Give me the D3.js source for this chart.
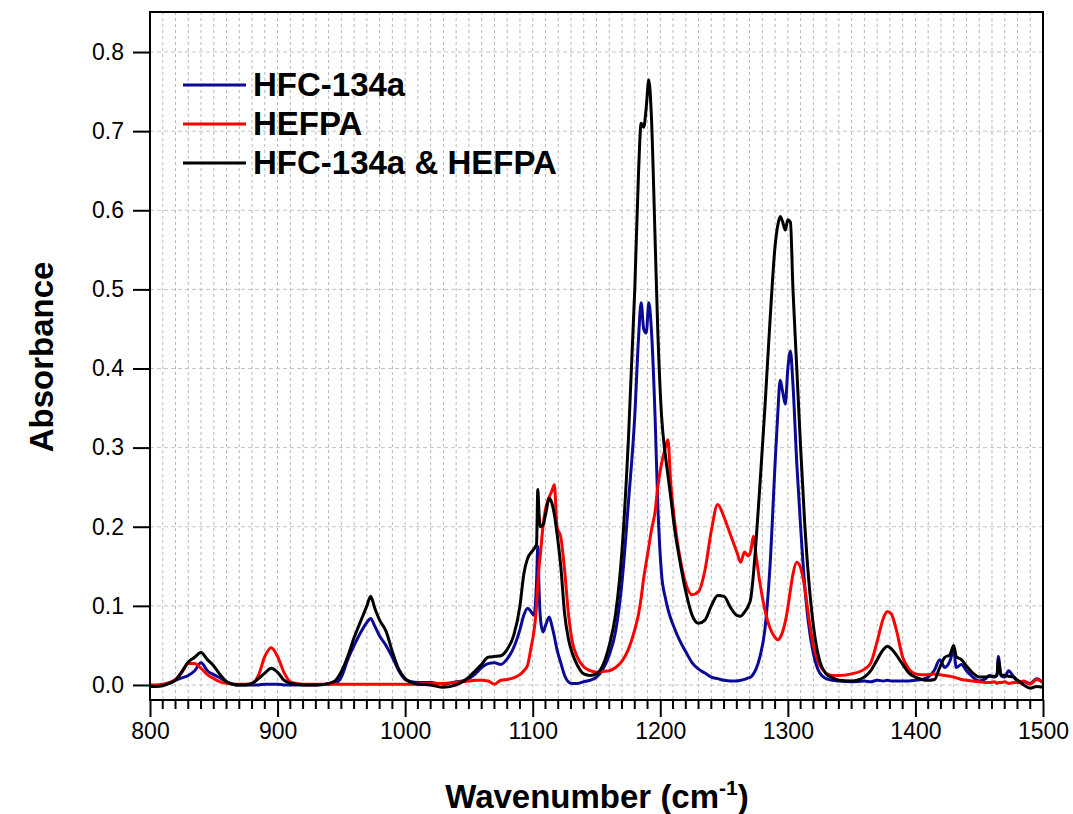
<!DOCTYPE html>
<html>
<head>
<meta charset="utf-8">
<script src="https://cdnjs.cloudflare.com/ajax/libs/d3/7.8.5/d3.min.js"></script>
<style>
  body { margin: 0; background: #fff; }
  text { font-family: Arial, "Liberation Sans", sans-serif; }
</style>
</head>
<body>
<div id="chart"></div>
<script>
// wavenumber (cm-1), shared by the three spectra
var wavenumbers = [
  800, 805, 810, 815, 820, 825, 830, 835, 840, 845,
  850, 855, 860, 865, 870, 875, 880, 885, 890, 895,
  900, 905, 910, 915, 920, 930, 940, 945, 950, 955,
  960, 965, 970, 973, 976, 980, 985, 990, 995, 1000,
  1005, 1010, 1020, 1030, 1040, 1045, 1050, 1055, 1060, 1065,
  1070, 1075, 1080, 1085, 1090, 1093, 1096, 1099, 1101, 1103,
  1104, 1105, 1106, 1108, 1110, 1113, 1115, 1117, 1119, 1122,
  1125, 1128, 1131, 1135, 1140, 1145, 1150, 1155, 1160, 1165,
  1170, 1175, 1180, 1183, 1185, 1187, 1189, 1191, 1193, 1196,
  1198, 1201, 1204, 1206, 1208, 1211, 1215, 1220, 1225, 1230,
  1235, 1240, 1245, 1250, 1255, 1260, 1263, 1266, 1269, 1271,
  1273, 1275, 1278, 1282, 1286, 1290, 1292, 1294, 1296, 1298,
  1300, 1302, 1304, 1307, 1310, 1313, 1316, 1320, 1325, 1330,
  1335, 1340, 1350, 1360, 1365, 1370, 1375, 1378, 1381, 1385,
  1390, 1395, 1400, 1405, 1410, 1415, 1419, 1423, 1427, 1430,
  1432, 1436, 1440, 1445, 1450, 1455, 1458, 1462, 1464, 1465,
  1467, 1470, 1473, 1477, 1480, 1485, 1490, 1495, 1500
];

var hfc134a = [
  0.000, -0.001, 0.000, 0.002, 0.006, 0.009, 0.012, 0.018, 0.028, 0.018,
  0.013, 0.009, 0.004, 0.001, 0.000, 0.000, 0.000, 0.000, 0.001, 0.001,
  0.001, 0.000, 0.000, 0.000, 0.000, 0.000, 0.001, 0.002, 0.010, 0.032,
  0.050, 0.066, 0.079, 0.084, 0.075, 0.062, 0.050, 0.035, 0.018, 0.007,
  0.004, 0.003, 0.003, 0.001, 0.004, 0.005, 0.008, 0.014, 0.022, 0.027,
  0.028, 0.026, 0.033, 0.047, 0.070, 0.088, 0.097, 0.092, 0.088, 0.130,
  0.175, 0.120, 0.085, 0.067, 0.075, 0.086, 0.075, 0.061, 0.045, 0.028,
  0.012, 0.004, 0.002, 0.002, 0.004, 0.006, 0.010, 0.020, 0.038, 0.068,
  0.130, 0.230, 0.340, 0.440, 0.483, 0.450, 0.445, 0.483, 0.450, 0.335,
  0.230, 0.140, 0.110, 0.096, 0.085, 0.072, 0.057, 0.042, 0.028, 0.020,
  0.015, 0.010, 0.008, 0.006, 0.005, 0.005, 0.006, 0.007, 0.009, 0.010,
  0.014, 0.020, 0.035, 0.070, 0.150, 0.280, 0.340, 0.385, 0.370, 0.355,
  0.400, 0.422, 0.380, 0.280, 0.200, 0.130, 0.080, 0.040, 0.015, 0.008,
  0.006, 0.005, 0.004, 0.005, 0.004, 0.006, 0.005, 0.006, 0.005, 0.005,
  0.005, 0.005, 0.006, 0.007, 0.010, 0.019, 0.032, 0.022, 0.030, 0.044,
  0.022, 0.026, 0.018, 0.010, 0.005, 0.008, 0.012, 0.010, 0.014, 0.036,
  0.012, 0.010, 0.018, 0.010, 0.005, 0.004, 0.002, 0.008, 0.003
];

var hefpa = [
  0.000, 0.000, 0.001, 0.003, 0.007, 0.016, 0.027, 0.027, 0.021, 0.013,
  0.008, 0.004, 0.002, 0.001, 0.001, 0.001, 0.002, 0.012, 0.036, 0.047,
  0.036, 0.016, 0.004, 0.002, 0.001, 0.001, 0.001, 0.001, 0.001, 0.001,
  0.001, 0.001, 0.001, 0.001, 0.001, 0.001, 0.001, 0.001, 0.001, 0.001,
  0.001, 0.001, 0.002, 0.002, 0.003, 0.004, 0.005, 0.006, 0.006, 0.005,
  0.001, 0.006, 0.007, 0.009, 0.013, 0.018, 0.025, 0.050, 0.068, 0.100,
  0.128, 0.150, 0.165, 0.200, 0.222, 0.238, 0.245, 0.253, 0.200, 0.187,
  0.145, 0.090, 0.055, 0.035, 0.023, 0.018, 0.016, 0.017, 0.018, 0.022,
  0.030, 0.045, 0.070, 0.090, 0.110, 0.135, 0.155, 0.175, 0.195, 0.220,
  0.250, 0.280, 0.300, 0.310, 0.260, 0.210, 0.165, 0.128, 0.114, 0.118,
  0.145, 0.195, 0.228, 0.212, 0.190, 0.168, 0.155, 0.168, 0.163, 0.170,
  0.188, 0.165, 0.130, 0.095, 0.072, 0.060, 0.057, 0.060, 0.068, 0.080,
  0.098, 0.120, 0.140, 0.155, 0.148, 0.125, 0.090, 0.050, 0.025, 0.015,
  0.012, 0.012, 0.014, 0.020, 0.028, 0.055, 0.085, 0.093, 0.090, 0.070,
  0.035, 0.020, 0.014, 0.013, 0.013, 0.014, 0.013, 0.012, 0.011, 0.010,
  0.009, 0.007, 0.006, 0.005, 0.004, 0.003, 0.003, 0.004, 0.002, 0.003,
  0.003, 0.004, 0.002, 0.003, 0.003, 0.005, 0.001, 0.007, 0.003
];

var mixture = [
  -0.002, -0.002, -0.001, 0.002, 0.006, 0.017, 0.029, 0.035, 0.041, 0.032,
  0.024, 0.013, 0.004, 0.001, 0.000, 0.000, 0.002, 0.008, 0.015, 0.021,
  0.016, 0.006, 0.002, 0.001, 0.000, 0.000, 0.002, 0.005, 0.017, 0.036,
  0.060, 0.080, 0.100, 0.112, 0.098, 0.082, 0.068, 0.042, 0.020, 0.008,
  0.003, 0.001, 0.000, -0.003, 0.000, 0.004, 0.010, 0.018, 0.026, 0.035,
  0.036, 0.037, 0.045, 0.062, 0.100, 0.140, 0.160, 0.168, 0.172, 0.178,
  0.247, 0.215, 0.200, 0.202, 0.215, 0.236, 0.230, 0.215, 0.192, 0.150,
  0.090, 0.058, 0.040, 0.025, 0.014, 0.012, 0.014, 0.025, 0.050, 0.090,
  0.170, 0.310, 0.500, 0.650, 0.710, 0.705, 0.730, 0.765, 0.720, 0.560,
  0.450, 0.340, 0.290, 0.265, 0.240, 0.200, 0.160, 0.118, 0.088, 0.078,
  0.082, 0.100, 0.113, 0.112, 0.098, 0.088, 0.087, 0.092, 0.100, 0.110,
  0.140, 0.180, 0.250, 0.350, 0.460, 0.555, 0.580, 0.592, 0.585, 0.575,
  0.588, 0.585, 0.500, 0.400, 0.300, 0.210, 0.140, 0.075, 0.030, 0.014,
  0.009, 0.006, 0.005, 0.010, 0.018, 0.032, 0.045, 0.049, 0.046, 0.038,
  0.026, 0.015, 0.010, 0.007, 0.006, 0.007, 0.022, 0.035, 0.038, 0.050,
  0.036, 0.032, 0.024, 0.015, 0.010, 0.010, 0.011, 0.011, 0.012, 0.032,
  0.013, 0.012, 0.011, 0.010, 0.006, 0.000, -0.004, -0.002, -0.003
];

var seriesNames = ["HFC-134a", "HEFPA", "HFC-134a & HEFPA"];
var seriesColors = ["#0a0a96", "#ff0000", "#000000"];
var yTicks = [0.0, 0.1, 0.2, 0.3, 0.4, 0.5, 0.6, 0.7, 0.8];
var xTicks = [800, 900, 1000, 1100, 1200, 1300, 1400, 1500];

// note: "top" is a reserved window property, so plot edges get their own names
var width = 1073,
    height = 814,
    plotL = 150, plotR = 1043, plotT = 12, plotB = 700;

var x = d3.scaleLinear().domain([800, 1500]).range([plotL, plotR]);
var y = d3.scaleLinear().domain([-0.019, 0.8506]).range([plotB, plotT]);

var svg = d3.select('#chart')
  .append('svg')
  .attr('width', width)
  .attr('height', height);

// grid: dotted verticals every 10 cm-1, dashed horizontals at major y ticks
var minorX = d3.range(810, 1500, 10);
svg.append('g').selectAll('line')
  .data(minorX)
  .enter().append('line')
    .attr('x1', function (d) { return x(d); })
    .attr('x2', function (d) { return x(d); })
    .attr('y1', plotT).attr('y2', plotB)
    .attr('stroke', '#b8b8b8')
    .attr('stroke-width', 1)
    .attr('stroke-dasharray', '3,3');

svg.append('g').selectAll('line')
  .data(yTicks)
  .enter().append('line')
    .attr('x1', plotL).attr('x2', plotR)
    .attr('y1', function (d) { return y(d); })
    .attr('y2', function (d) { return y(d); })
    .attr('stroke', '#c4c4c4')
    .attr('stroke-width', 1)
    .attr('stroke-dasharray', '4,3');

// spectra
var line = d3.line()
  .x(function (d) { return x(d[0]); })
  .y(function (d) { return y(d[1]); })
  .curve(d3.curveMonotoneX);

var allSeries = [hfc134a, hefpa, mixture];
allSeries.forEach(function (vals, i) {
  if (vals.length !== wavenumbers.length) console.warn('length mismatch', seriesNames[i], vals.length);
  var pts = wavenumbers.map(function (w, j) { return [w, vals[j]]; });
  svg.append('path')
    .datum(pts)
    .attr('fill', 'none')
    .attr('stroke', seriesColors[i])
    .attr('stroke-width', 3)
    .attr('stroke-linejoin', 'round')
    .attr('d', line);
});

// frame
svg.append('rect')
  .attr('x', plotL).attr('y', plotT)
  .attr('width', plotR - plotL).attr('height', plotB - plotT)
  .attr('fill', 'none')
  .attr('stroke', '#000')
  .attr('stroke-width', 2);

// x axis: major + minor ticks pointing down
var xAxis = d3.axisBottom(x)
  .tickValues(xTicks)
  .tickSize(17)
  .tickPadding(6)
  .tickFormat(d3.format('d'));
var gx = svg.append('g').attr('transform', 'translate(0,' + plotB + ')').call(xAxis);
gx.select('.domain').remove();
gx.selectAll('line').attr('stroke-width', 2);
gx.selectAll('text').attr('font-size', 23).attr('fill', '#000');

svg.append('g').selectAll('line')
  .data(d3.range(810, 1500, 10).filter(function (d) { return d % 100 !== 0; }))
  .enter().append('line')
    .attr('x1', function (d) { return x(d); })
    .attr('x2', function (d) { return x(d); })
    .attr('y1', plotB).attr('y2', plotB + 9)
    .attr('stroke', '#000')
    .attr('stroke-width', 2);

// y axis
var yAxis = d3.axisLeft(y)
  .tickValues(yTicks)
  .tickSize(17)
  .tickPadding(9)
  .tickFormat(d3.format('.1f'));
var gy = svg.append('g').attr('transform', 'translate(' + plotL + ',0)').call(yAxis);
gy.select('.domain').remove();
gy.selectAll('line').attr('stroke-width', 2);
gy.selectAll('text').attr('font-size', 23).attr('fill', '#000');

// axis titles
svg.append('text')
  .attr('transform', 'translate(53,357) rotate(-90)')
  .attr('text-anchor', 'middle')
  .attr('font-size', 33)
  .attr('font-weight', 'bold')
  .text('Absorbance');

var xt = svg.append('text')
  .attr('x', 597).attr('y', 808)
  .attr('text-anchor', 'middle')
  .attr('font-size', 33)
  .attr('font-weight', 'bold');
xt.append('tspan').text('Wavenumber (cm');
xt.append('tspan').attr('font-size', 21).attr('dy', -13).text('-1');
xt.append('tspan').attr('dy', 13).text(')');

// legend
var legend = svg.append('g');
seriesNames.forEach(function (name, i) {
  var ly = 85 + i * 39;
  legend.append('line')
    .attr('x1', 183).attr('x2', 246)
    .attr('y1', ly).attr('y2', ly)
    .attr('stroke', seriesColors[i])
    .attr('stroke-width', 3);
  legend.append('text')
    .attr('x', 253).attr('y', ly + 11)
    .attr('font-size', 33)
    .attr('font-weight', 'bold')
    .text(name);
});
</script>
</body>
</html>
